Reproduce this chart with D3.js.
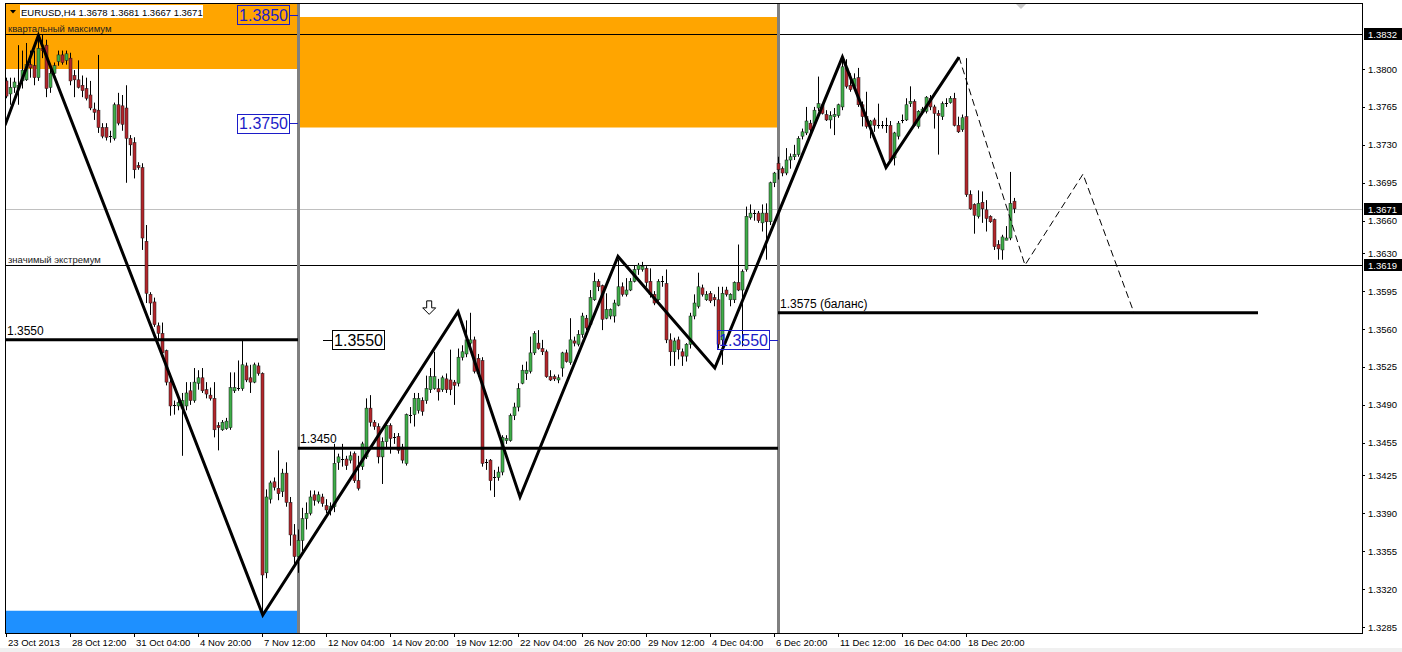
<!DOCTYPE html>
<html>
<head>
<meta charset="utf-8">
<script src="https://cdn.jsdelivr.net/npm/d3@7"></script>
<style>
  html, body { margin: 0; padding: 0; background: #fff; }
  svg { display: block; }
  text { font-family: "Liberation Sans", Arial, sans-serif; }
</style>
</head>
<body>
<svg id="chart" width="1402" height="652"></svg>
<script>
// EURUSD H4 candles, one row per bar: [open, high, low, close]
const candles = [
  [1.3789,1.3792,1.3773,1.3775],[1.3777,1.3792,1.3767,1.3783],[1.3783,1.3792,1.3778,1.3788],[1.3782,1.3822,1.3767,1.3785],
  [1.3789,1.3817,1.3782,1.3799],[1.3790,1.3824,1.3789,1.3804],[1.3804,1.3817,1.3792,1.3801],[1.3803,1.3817,1.3785,1.3792],
  [1.3792,1.3829,1.3789,1.3819],[1.3819,1.3832,1.3810,1.3817],[1.3822,1.3827,1.3774,1.3782],[1.3783,1.3803,1.3778,1.3796],
  [1.3796,1.3806,1.3792,1.3803],[1.3807,1.3817,1.3803,1.3813],[1.3813,1.3817,1.3804,1.3806],[1.3808,1.3817,1.3804,1.3814],
  [1.3810,1.3815,1.3785,1.3789],[1.3794,1.3799,1.3774,1.3790],[1.3790,1.3808,1.3782,1.3783],[1.3785,1.3794,1.3774,1.3780],
  [1.3782,1.3792,1.3771,1.3773],[1.3776,1.3789,1.3762,1.3764],[1.3763,1.3769,1.3753,1.3760],[1.3762,1.3813,1.3741,1.3746],
  [1.3746,1.3750,1.3736,1.3738],[1.3746,1.3750,1.3734,1.3737],[1.3738,1.3743,1.3732,1.3737],[1.3736,1.3769,1.3734,1.3767],
  [1.3767,1.3778,1.3748,1.3750],[1.3766,1.3776,1.3743,1.3749],[1.3764,1.3785,1.3695,1.3736],[1.3736,1.3739,1.3720,1.3730],
  [1.3732,1.3737,1.3699,1.3707],[1.3711,1.3714,1.3707,1.3709],[1.3709,1.3713,1.3633,1.3644],[1.3641,1.3656,1.3584,1.3593],
  [1.3592,1.3594,1.3573,1.3584],[1.3585,1.3589,1.3562,1.3564],[1.3563,1.3566,1.3549,1.3556],[1.3556,1.3566,1.3534,1.3538],
  [1.3540,1.3541,1.3508,1.3511],[1.3511,1.3513,1.3480,1.3489],[1.3490,1.3494,1.3481,1.3489],[1.3489,1.3499,1.3485,1.3492],
  [1.3487,1.3501,1.3443,1.3494],[1.3489,1.3511,1.3485,1.3501],[1.3503,1.3511,1.3490,1.3494],[1.3494,1.3524,1.3492,1.3511],
  [1.3510,1.3522,1.3504,1.3515],[1.3515,1.3524,1.3501,1.3503],[1.3504,1.3511,1.3496,1.3500],[1.3499,1.3506,1.3494,1.3496],
  [1.3496,1.3511,1.3460,1.3467],[1.3471,1.3474,1.3448,1.3469],[1.3467,1.3476,1.3466,1.3474],[1.3468,1.3478,1.3467,1.3475],
  [1.3469,1.3520,1.3467,1.3506],[1.3503,1.3520,1.3501,1.3506],[1.3505,1.3531,1.3503,1.3506],[1.3505,1.3549,1.3503,1.3527],
  [1.3526,1.3529,1.3511,1.3513],[1.3515,1.3527,1.3501,1.3511],[1.3511,1.3529,1.3510,1.3527],[1.3526,1.3529,1.3517,1.3519],
  [1.3519,1.3520,1.3296,1.3333],[1.3335,1.3412,1.3330,1.3405],[1.3403,1.3420,1.3399,1.3418],[1.3419,1.3423,1.3411,1.3414],
  [1.3413,1.3448,1.3402,1.3408],[1.3410,1.3431,1.3405,1.3427],[1.3427,1.3437,1.3396,1.3400],[1.3400,1.3405,1.3360,1.3370],
  [1.3370,1.3380,1.3340,1.3350],[1.3350,1.3375,1.3335,1.3365],[1.3365,1.3395,1.3355,1.3385],[1.3385,1.3400,1.3375,1.3390],
  [1.3390,1.3411,1.3388,1.3405],[1.3407,1.3411,1.3397,1.3402],[1.3401,1.3410,1.3399,1.3407],[1.3405,1.3408,1.3396,1.3399],
  [1.3397,1.3403,1.3390,1.3393],[1.3393,1.3400,1.3388,1.3396],[1.3396,1.3454,1.3391,1.3436],[1.3437,1.3445,1.3430,1.3442],
  [1.3440,1.3454,1.3433,1.3439],[1.3440,1.3443,1.3430,1.3434],[1.3439,1.3447,1.3436,1.3443],[1.3445,1.3447,1.3418,1.3420],
  [1.3420,1.3443,1.3411,1.3413],[1.3433,1.3456,1.3430,1.3454],[1.3442,1.3496,1.3440,1.3487],[1.3487,1.3499,1.3470,1.3474],
  [1.3474,1.3476,1.3467,1.3470],[1.3470,1.3473,1.3436,1.3442],[1.3442,1.3460,1.3417,1.3456],[1.3456,1.3474,1.3451,1.3471],
  [1.3471,1.3473,1.3445,1.3459],[1.3460,1.3464,1.3454,1.3459],[1.3461,1.3464,1.3445,1.3448],[1.3451,1.3454,1.3436,1.3439],
  [1.3436,1.3482,1.3434,1.3481],[1.3480,1.3488,1.3473,1.3481],[1.3481,1.3501,1.3470,1.3496],[1.3485,1.3501,1.3482,1.3496],
  [1.3494,1.3497,1.3480,1.3484],[1.3494,1.3517,1.3491,1.3505],[1.3504,1.3524,1.3501,1.3516],[1.3505,1.3539,1.3504,1.3516],
  [1.3505,1.3514,1.3494,1.3502],[1.3504,1.3517,1.3502,1.3515],[1.3514,1.3519,1.3501,1.3504],[1.3513,1.3541,1.3499,1.3504],
  [1.3511,1.3513,1.3490,1.3508],[1.3510,1.3542,1.3507,1.3534],[1.3534,1.3545,1.3531,1.3539],[1.3537,1.3568,1.3534,1.3550],
  [1.3547,1.3575,1.3544,1.3550],[1.3550,1.3553,1.3519,1.3521],[1.3533,1.3537,1.3516,1.3519],[1.3531,1.3534,1.3433,1.3436],
  [1.3437,1.3440,1.3430,1.3436],[1.3439,1.3440,1.3411,1.3420],[1.3423,1.3430,1.3405,1.3422],[1.3423,1.3433,1.3420,1.3428],
  [1.3428,1.3462,1.3425,1.3460],[1.3457,1.3462,1.3454,1.3459],[1.3457,1.3482,1.3456,1.3480],[1.3480,1.3492,1.3476,1.3488],
  [1.3488,1.3510,1.3484,1.3505],[1.3510,1.3527,1.3509,1.3522],[1.3519,1.3530,1.3513,1.3522],[1.3521,1.3553,1.3519,1.3538],
  [1.3538,1.3558,1.3536,1.3556],[1.3547,1.3559,1.3541,1.3542],[1.3542,1.3550,1.3536,1.3539],[1.3539,1.3541,1.3515,1.3516],
  [1.3516,1.3522,1.3512,1.3513],[1.3516,1.3518,1.3512,1.3514],[1.3513,1.3518,1.3510,1.3515],[1.3524,1.3539,1.3516,1.3538],
  [1.3538,1.3541,1.3529,1.3530],[1.3529,1.3570,1.3527,1.3550],[1.3549,1.3553,1.3544,1.3547],[1.3546,1.3559,1.3544,1.3555],
  [1.3555,1.3575,1.3552,1.3572],[1.3570,1.3573,1.3559,1.3561],[1.3564,1.3596,1.3562,1.3589],[1.3587,1.3612,1.3586,1.3604],
  [1.3604,1.3606,1.3595,1.3599],[1.3600,1.3601,1.3559,1.3569],[1.3570,1.3593,1.3569,1.3578],[1.3572,1.3579,1.3569,1.3578],
  [1.3572,1.3587,1.3566,1.3584],[1.3582,1.3624,1.3581,1.3599],[1.3599,1.3603,1.3590,1.3592],[1.3592,1.3607,1.3590,1.3596],
  [1.3596,1.3607,1.3595,1.3604],[1.3604,1.3619,1.3603,1.3615],[1.3615,1.3621,1.3610,1.3619],[1.3615,1.3622,1.3613,1.3618],
  [1.3616,1.3618,1.3599,1.3603],[1.3604,1.3616,1.3589,1.3592],[1.3592,1.3595,1.3582,1.3584],[1.3587,1.3606,1.3586,1.3604],
  [1.3604,1.3609,1.3599,1.3603],[1.3602,1.3615,1.3547,1.3550],[1.3550,1.3556,1.3526,1.3539],[1.3539,1.3552,1.3526,1.3549],
  [1.3550,1.3553,1.3532,1.3541],[1.3539,1.3542,1.3526,1.3535],[1.3535,1.3547,1.3530,1.3546],[1.3546,1.3575,1.3542,1.3572],
  [1.3572,1.3592,1.3569,1.3584],[1.3581,1.3612,1.3579,1.3599],[1.3598,1.3601,1.3590,1.3592],[1.3587,1.3595,1.3586,1.3592],
  [1.3593,1.3595,1.3584,1.3586],[1.3589,1.3592,1.3581,1.3587],[1.3587,1.3599,1.3542,1.3546],[1.3550,1.3599,1.3527,1.3593],
  [1.3596,1.3599,1.3590,1.3592],[1.3587,1.3593,1.3581,1.3592],[1.3587,1.3604,1.3584,1.3603],[1.3603,1.3638,1.3595,1.3596],
  [1.3596,1.3615,1.3544,1.3613],[1.3615,1.3673,1.3613,1.3664],[1.3663,1.3675,1.3661,1.3667],[1.3666,1.3670,1.3660,1.3667],
  [1.3667,1.3669,1.3658,1.3660],[1.3658,1.3675,1.3650,1.3667],[1.3667,1.3676,1.3624,1.3659],[1.3659,1.3696,1.3656,1.3695],
  [1.3695,1.3705,1.3691,1.3704],[1.3713,1.3719,1.3698,1.3707],[1.3708,1.3710,1.3701,1.3704],[1.3704,1.3727,1.3702,1.3716],
  [1.3716,1.3722,1.3708,1.3719],[1.3719,1.3730,1.3716,1.3721],[1.3721,1.3738,1.3719,1.3736],[1.3738,1.3745,1.3735,1.3742],
  [1.3741,1.3765,1.3739,1.3752],[1.3750,1.3753,1.3739,1.3744],[1.3750,1.3765,1.3748,1.3762],[1.3764,1.3793,1.3761,1.3768],
  [1.3767,1.3768,1.3758,1.3759],[1.3758,1.3762,1.3752,1.3753],[1.3753,1.3761,1.3745,1.3757],[1.3756,1.3764,1.3739,1.3758],
  [1.3757,1.3768,1.3755,1.3767],[1.3765,1.3810,1.3762,1.3802],[1.3801,1.3809,1.3782,1.3784],[1.3785,1.3796,1.3779,1.3781],
  [1.3784,1.3796,1.3781,1.3791],[1.3792,1.3801,1.3765,1.3767],[1.3767,1.3770,1.3747,1.3756],[1.3756,1.3779,1.3745,1.3747],
  [1.3748,1.3753,1.3736,1.3752],[1.3753,1.3755,1.3742,1.3748],[1.3748,1.3768,1.3745,1.3748],[1.3748,1.3752,1.3745,1.3748],
  [1.3748,1.3755,1.3741,1.3748],[1.3748,1.3752,1.3715,1.3716],[1.3718,1.3742,1.3711,1.3741],[1.3738,1.3752,1.3735,1.3750],
  [1.3752,1.3758,1.3750,1.3753],[1.3753,1.3773,1.3752,1.3767],[1.3768,1.3784,1.3765,1.3770],[1.3770,1.3772,1.3747,1.3748],
  [1.3747,1.3762,1.3745,1.3761],[1.3760,1.3765,1.3758,1.3763],[1.3761,1.3775,1.3759,1.3774],[1.3773,1.3776,1.3762,1.3765],
  [1.3765,1.3767,1.3745,1.3759],[1.3759,1.3762,1.3721,1.3757],[1.3756,1.3770,1.3753,1.3768],[1.3768,1.3773,1.3765,1.3769],
  [1.3769,1.3775,1.3768,1.3773],[1.3773,1.3778,1.3747,1.3748],[1.3748,1.3756,1.3741,1.3742],[1.3744,1.3758,1.3742,1.3755],
  [1.3756,1.3810,1.3682,1.3684],[1.3684,1.3688,1.3670,1.3671],[1.3675,1.3676,1.3648,1.3665],[1.3664,1.3688,1.3662,1.3676],
  [1.3677,1.3687,1.3658,1.3671],[1.3670,1.3679,1.3650,1.3662],[1.3664,1.3665,1.3658,1.3659],[1.3661,1.3662,1.3633,1.3636],
  [1.3638,1.3642,1.3624,1.3634],[1.3633,1.3647,1.3624,1.3645],[1.3642,1.3655,1.3642,1.3644],[1.3644,1.3705,1.3642,1.3676],
  [1.3678,1.3681,1.3667,1.3671]
];

// Right price scale labels
const priceTicks = [1.3800,1.3765,1.3730,1.3695,1.3660,1.3630,1.3595,1.3560,1.3525,1.3490,1.3455,1.3425,1.3390,1.3355,1.3320,1.3285];

// Time scale labels, one every 16 bars
const timeLabels = ["23 Oct 2013","28 Oct 12:00","31 Oct 04:00","4 Nov 20:00","7 Nov 12:00","12 Nov 04:00",
  "14 Nov 20:00","19 Nov 12:00","22 Nov 04:00","26 Nov 20:00","29 Nov 12:00","4 Dec 04:00",
  "6 Dec 20:00","11 Dec 12:00","16 Dec 04:00","18 Dec 20:00"];
const timeLabelStep = 16;

// Wave markup (bar index, price)
const zigzag = [[-0.25,1.3748],[8.1,1.3831],[64.2,1.3296],[113,1.3576],[128.5,1.3405],
  [153,1.3627],[177.2,1.3524],[209.1,1.3811],[220,1.3709],[238.25,1.3811]];
const forecast = [[238.25,1.3811],[254.75,1.3619],[269.25,1.3703],[282,1.3575]];

// Section dividers (bar index)
const dividers = [73, 193];

// Supply / demand zones: [fromBar, toBar, lowPrice, highPrice] (null = open to the edge)
const supplyZones = [[-0.25, 73, 1.3800, null], [73, 193, 1.3746, 1.3848]];
const demandZones = [[-0.25, 73, null, 1.3300]];

// Key levels drawn as thick segments
const levels = [
  { price: 1.3550, from: -0.25, to: 73, text: "1.3550" },
  { price: 1.3450, from: 73, to: 193, text: "1.3450" },
  { price: 1.3575, from: 193, to: 313, text: "1.3575 (баланс)" }
];

// Full-width horizontal lines
const hLines = [
  { price: 1.3832, text: "квартальный максимум", kind: "mark" },
  { price: 1.3619, text: "значимый экстремум", kind: "mark" },
  { price: 1.3671, text: "", kind: "bid" }
];

// Boxed price callouts: anchor bar, price, side of the box relative to the anchor
const callouts = [
  { bar: 73, price: 1.3850, side: "left", kind: "blue" },
  { bar: 73, price: 1.3750, side: "left", kind: "blue" },
  { bar: 79.25, price: 1.3550, side: "right", kind: "black" },
  { bar: 193, price: 1.3550, side: "left", kind: "blue" }
];

// Highlighted prices on the right scale
const axisMarks = [1.3832, 1.3671, 1.3619];

// Down arrow marker
const arrows = [{ bar: 105.8, price: 1.3586 }];

const header = "EURUSD,H4  1.3678 1.3681 1.3667 1.3671";

// ---------- layout ----------
const W = 1402, H = 652;
const plot = { left: 5, top: 3, right: 1362, bottom: 633 };
const lastBar = 339;

const x = d3.scaleLinear().domain([0, lastBar]).range([6, 6 + 4 * lastBar]);
const y = d3.scaleLinear().domain([1.3285, 1.3800]).range([627, 69]);

const svg = d3.select("#chart");

svg.append("rect").attr("x", 0).attr("y", 0).attr("width", W).attr("height", H).attr("fill", "#fff");
svg.append("rect").attr("x", 0).attr("y", 648).attr("width", W).attr("height", H - 648).attr("fill", "#f0f0f0");

svg.append("defs").append("clipPath").attr("id", "plotClip")
  .append("rect").attr("x", plot.left).attr("y", plot.top)
  .attr("width", plot.right - plot.left).attr("height", plot.bottom - plot.top);

const g = svg.append("g").attr("clip-path", "url(#plotClip)");

// zones
const ORANGE = "#ffa500", BLUE = "#1e90ff";
g.selectAll("rect.supply").data(supplyZones).join("rect").attr("class", "supply")
  .attr("x", d => x(d[0])).attr("width", d => x(d[1]) - x(d[0]))
  .attr("y", d => d[3] === null ? plot.top : y(d[3]))
  .attr("height", d => y(d[2]) - (d[3] === null ? plot.top : y(d[3])))
  .attr("fill", ORANGE);
g.selectAll("rect.demand").data(demandZones).join("rect").attr("class", "demand")
  .attr("x", d => x(d[0])).attr("width", d => x(d[1]) - x(d[0]))
  .attr("y", d => y(d[3]))
  .attr("height", d => (d[2] === null ? plot.bottom : y(d[2])) - y(d[3]))
  .attr("fill", BLUE);

// full-width lines
const snap = v => Math.round(v) + 0.5;
g.selectAll("line.hl").data(hLines).join("line").attr("class", "hl")
  .attr("x1", plot.left).attr("x2", plot.right)
  .attr("y1", d => snap(y(d.price))).attr("y2", d => snap(y(d.price)))
  .attr("stroke", d => d.kind === "bid" ? "#c0c0c0" : "#000").attr("stroke-width", 1);
g.selectAll("text.hl").data(hLines.filter(d => d.text)).join("text").attr("class", "hl")
  .attr("x", 8).attr("y", d => y(d.price) - 2.5)
  .attr("font-size", 9.5).attr("fill", "#222").text(d => d.text);

// dividers
g.selectAll("line.div").data(dividers).join("line").attr("class", "div")
  .attr("x1", d => x(d) + 0.5).attr("x2", d => x(d) + 0.5)
  .attr("y1", plot.top).attr("y2", plot.bottom)
  .attr("stroke", "#808080").attr("stroke-width", 3);

// candles
const BULL = "#3fae49", BEAR = "#b3262b";
const cg = g.append("g");
candles.forEach((c, i) => {
  const [o, h, l, cl] = c;
  const cx = Math.round(x(i));
  cg.append("line").attr("x1", cx + 0.5).attr("x2", cx + 0.5)
    .attr("y1", y(h)).attr("y2", y(l)).attr("stroke", "#000").attr("stroke-width", 1);
  const top = y(Math.max(o, cl)), bot = y(Math.min(o, cl));
  const hgt = bot - top;
  if (hgt < 1.2) {
    cg.append("line").attr("x1", cx - 1).attr("x2", cx + 2)
      .attr("y1", snap(top)).attr("y2", snap(top)).attr("stroke", "#000");
  } else {
    cg.append("rect").attr("x", cx - 1).attr("width", 3)
      .attr("y", top).attr("height", hgt)
      .attr("fill", cl >= o ? BULL : BEAR)
      .attr("stroke", "#1a1a1a").attr("stroke-width", 0.5);
  }
});

// thick levels
g.selectAll("line.lvl").data(levels).join("line").attr("class", "lvl")
  .attr("x1", d => x(d.from)).attr("x2", d => x(d.to))
  .attr("y1", d => y(d.price)).attr("y2", d => y(d.price))
  .attr("stroke", "#000").attr("stroke-width", 3);
g.selectAll("text.lvl").data(levels).join("text").attr("class", "lvl")
  .attr("x", d => x(d.from) + 2).attr("y", d => y(d.price) - 5)
  .attr("font-size", 12).attr("fill", "#000").text(d => d.text);

// wave markup
const line = d3.line().x(d => x(d[0])).y(d => y(d[1]));
g.append("path").datum(zigzag).attr("d", line)
  .attr("fill", "none").attr("stroke", "#000").attr("stroke-width", 3)
  .attr("stroke-linejoin", "miter");
g.append("path").datum(forecast).attr("d", line)
  .attr("fill", "none").attr("stroke", "#000").attr("stroke-width", 1)
  .attr("stroke-dasharray", "7,4");

// arrow marker
arrows.forEach(a => {
  const ax = x(a.bar), ay = y(a.price);
  const p = [[-2.5,0],[2.5,0],[2.5,7],[6.5,7],[0,13.5],[-6.5,7],[-2.5,7]];
  g.append("path").attr("d", "M" + p.map(q => (ax + q[0]) + "," + (ay + q[1])).join("L") + "Z")
    .attr("fill", "#fff").attr("stroke", "#000").attr("stroke-width", 1);
});

// boxed callouts
const boxW = 52, boxH = 19, tick = 9;
callouts.forEach(cb => {
  const ax = x(cb.bar), ay = y(cb.price);
  const col = cb.kind === "blue" ? "#1c1cc8" : "#000";
  let bx, lx1, lx2;
  if (cb.side === "left") { lx2 = ax; lx1 = ax - tick; bx = lx1 - boxW; }
  else { lx1 = ax; lx2 = ax + tick; bx = lx2; }
  g.append("line").attr("x1", lx1).attr("x2", lx2).attr("y1", Math.round(ay) + 0.5).attr("y2", Math.round(ay) + 0.5)
    .attr("stroke", col).attr("stroke-width", 1);
  g.append("rect").attr("x", Math.round(bx) + 0.5).attr("y", Math.round(ay - boxH / 2) + 0.5)
    .attr("width", boxW).attr("height", boxH)
    .attr("fill", cb.kind === "blue" ? "none" : "#fff").attr("stroke", col).attr("stroke-width", 1);
  g.append("text").attr("x", bx + boxW / 2 + 0.5).attr("y", ay + 6)
    .attr("text-anchor", "middle").attr("font-size", 16).attr("fill", col)
    .text(d3.format(".4f")(cb.price));
});

// header
svg.append("rect").attr("x", 20).attr("y", 5).attr("width", 183).attr("height", 13).attr("fill", "#fff");
svg.append("path").attr("d", "M10,10L16,10L13,13.5Z").attr("fill", "#000");
svg.append("text").attr("x", 21).attr("y", 15.5).attr("font-size", 9.5).attr("fill", "#000").text(header);

// chart-shift marker
svg.append("path").attr("d", "M1016,4L1026,4L1021,9Z").attr("fill", "#c8c8c8");

// frame
svg.append("rect").attr("x", plot.left + 0.5).attr("y", plot.top + 0.5)
  .attr("width", plot.right - plot.left).attr("height", plot.bottom - plot.top)
  .attr("fill", "none").attr("stroke", "#000").attr("stroke-width", 1);

// right price scale
const ax = svg.append("g");
ax.selectAll("line").data(priceTicks).join("line")
  .attr("x1", plot.right).attr("x2", plot.right + 3)
  .attr("y1", d => snap(y(d))).attr("y2", d => snap(y(d))).attr("stroke", "#000");
ax.selectAll("text").data(priceTicks).join("text")
  .attr("x", 1368).attr("y", d => y(d) + 3.5).attr("font-size", 9.5).attr("fill", "#000")
  .text(d => d3.format(".4f")(d));

const am = svg.append("g");
axisMarks.forEach(p => {
  const py = Math.round(y(p));
  am.append("rect").attr("x", 1364).attr("y", py - 6).attr("width", 38).attr("height", 12).attr("fill", "#000");
  am.append("text").attr("x", 1368).attr("y", py + 3.5).attr("font-size", 9.5).attr("fill", "#fff")
    .text(d3.format(".4f")(p));
});

// time scale
const tg = svg.append("g");
timeLabels.forEach((t, k) => {
  const tx = Math.round(x(k * timeLabelStep)) + 0.5;
  tg.append("line").attr("x1", tx).attr("x2", tx).attr("y1", plot.bottom).attr("y2", plot.bottom + 4).attr("stroke", "#000");
  tg.append("text").attr("x", tx + 1.5).attr("y", 646).attr("font-size", 9.5).attr("fill", "#000").text(t);
});
</script>
</body>
</html>
